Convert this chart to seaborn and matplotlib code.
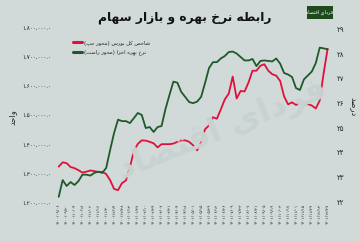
import numpy as np
import pandas as pd
import matplotlib
matplotlib.use("Agg")
import matplotlib.pyplot as plt
import seaborn as sns

# ---------------- data ----------------
tick_dates = [
    "1400/09/06", "1400/09/20", "1400/10/04", "1400/10/18", "1400/11/02",
    "1400/11/16", "1400/11/30", "1400/12/14", "1400/12/28", "1401/01/13",
    "1401/01/27", "1401/02/10", "1401/02/24", "1401/03/07", "1401/03/21",
    "1401/04/04", "1401/04/18", "1401/05/01", "1401/05/15", "1401/05/29",
    "1401/06/12", "1401/06/26", "1401/07/09", "1401/07/23", "1401/08/07",
    "1401/08/21", "1401/09/05", "1401/09/19", "1401/10/03", "1401/10/17",
    "1401/11/01", "1401/11/15", "1401/11/29", "1401/12/13", "1401/12/27",
]

# weekly observations (two per tick label)
stock_index = [
    1324000, 1339000, 1336000, 1323000, 1319000, 1312000, 1304000, 1307000,
    1311000, 1309000, 1306000, 1306000, 1299000, 1278000, 1248000, 1244000,
    1268000, 1277000, 1322000, 1377000, 1402000, 1414000, 1413000, 1409000,
    1404000, 1390000, 1401000, 1401000, 1401000, 1403000, 1409000, 1414000,
    1414000, 1409000, 1397000, 1380000, 1407000, 1452000, 1465000, 1493000,
    1488000, 1520000, 1554000, 1574000, 1632000, 1557000, 1583000, 1581000,
    1612000, 1652000, 1652000, 1669000, 1674000, 1652000, 1640000, 1635000,
    1617000, 1564000, 1537000, 1544000, 1535000, 1540000, 1537000, 1538000,
    1533000, 1523000, 1550000, 1644000, 1727000,
]
interest_rate = [
    22.21, 22.89, 22.65, 22.81, 22.69, 22.85, 23.11, 23.11, 23.07, 23.18,
    23.23, 23.18, 23.38, 24.11, 24.80, 25.34, 25.28, 25.28, 25.20, 25.40,
    25.61, 25.53, 25.00, 25.04, 24.84, 25.04, 25.08, 25.77, 26.34, 26.88,
    26.84, 26.46, 26.26, 26.05, 26.01, 26.07, 26.26, 26.82, 27.43, 27.67,
    27.67, 27.82, 27.92, 28.08, 28.10, 28.02, 27.88, 27.74, 27.74, 27.80,
    27.51, 27.72, 27.74, 27.72, 27.70, 27.82, 27.61, 27.23, 27.17, 27.07,
    26.62, 26.54, 26.97, 27.13, 27.29, 27.63, 28.26, 28.23, 28.19,
]
left_ticks = [1200000, 1300000, 1400000, 1500000, 1600000, 1700000, 1800000]
right_ticks = [22, 23, 24, 25, 26, 27, 28, 29]

title_text = "رابطه نرخ بهره و بازار سهام"
label_stock = "شاخص کل بورس (محور چپ)"
label_rate = "نرخ بهره اخزا (محور راست)"
left_axis_label = "واحد"
right_axis_label = "درصد"
logo_text = "فردای اقتصاد"

# ---------------- Persian shaping helpers ----------------
FORMS = {
    "ا": ("\uFE8D", "\uFE8E", None, None),
    "آ": ("\uFE81", "\uFE82", None, None),
    "ب": ("\uFE8F", "\uFE90", "\uFE91", "\uFE92"),
    "پ": ("\uFB56", "\uFB57", "\uFB58", "\uFB59"),
    "ت": ("\uFE95", "\uFE96", "\uFE97", "\uFE98"),
    "چ": ("\uFB7A", "\uFB7B", "\uFB7C", "\uFB7D"),
    "ح": ("\uFEA1", "\uFEA2", "\uFEA3", "\uFEA4"),
    "خ": ("\uFEA5", "\uFEA6", "\uFEA7", "\uFEA8"),
    "د": ("\uFEA9", "\uFEAA", None, None),
    "ر": ("\uFEAD", "\uFEAE", None, None),
    "ز": ("\uFEAF", "\uFEB0", None, None),
    "س": ("\uFEB1", "\uFEB2", "\uFEB3", "\uFEB4"),
    "ش": ("\uFEB5", "\uFEB6", "\uFEB7", "\uFEB8"),
    "ص": ("\uFEB9", "\uFEBA", "\uFEBB", "\uFEBC"),
    "ط": ("\uFEC1", "\uFEC2", "\uFEC3", "\uFEC4"),
    "ف": ("\uFED1", "\uFED2", "\uFED3", "\uFED4"),
    "ق": ("\uFED5", "\uFED6", "\uFED7", "\uFED8"),
    "ک": ("\uFB8E", "\uFB8F", "\uFB90", "\uFB91"),
    "ل": ("\uFEDD", "\uFEDE", "\uFEDF", "\uFEE0"),
    "م": ("\uFEE1", "\uFEE2", "\uFEE3", "\uFEE4"),
    "ن": ("\uFEE5", "\uFEE6", "\uFEE7", "\uFEE8"),
    "ه": ("\uFEE9", "\uFEEA", "\uFEEB", "\uFEEC"),
    "و": ("\uFEED", "\uFEEE", None, None),
    "ی": ("\uFBFC", "\uFBFD", "\uFBFE", "\uFBFF"),
}


def fa(s):
    out = []
    for i, ch in enumerate(s):
        if ch not in FORMS:
            out.append(ch)
            continue
        prev = s[i - 1] if i > 0 else None
        nxt = s[i + 1] if i + 1 < len(s) else None
        iso, fin, ini, med = FORMS[ch]
        jp = prev in FORMS and FORMS[prev][2] is not None
        jn = nxt in FORMS and ini is not None
        if jp and jn:
            out.append(med)
        elif jp:
            out.append(fin)
        elif jn:
            out.append(ini)
        else:
            out.append(iso)
    vis = "".join(out)[::-1]
    return vis.translate(str.maketrans({"(": ")", ")": "("}))


FA_DIGITS = str.maketrans("0123456789", "۰۱۲۳۴۵۶۷۸۹")


def fd(s):
    return s.translate(FA_DIGITS)


# ---------------- figure ----------------
BG = "#d1dad9"
RED = "#e0103c"
GREEN = "#1d5a2a"

sns.set_theme(style="white")
plt.rcParams["font.family"] = ["DejaVu Sans"]

fig = plt.figure(figsize=(3.6, 2.41), dpi=100, facecolor=BG)
W, H = 360.0, 241.0
ax = fig.add_axes([55 / W, 1 - 203 / H, (333 - 55) / W, (203 - 27.4) / H])
ax.set_facecolor("none")
ax2 = ax.twinx()

n = len(stock_index)
df = pd.DataFrame({"t": np.arange(n) * 0.5, "stock": stock_index, "rate": interest_rate})

sns.lineplot(data=df, x="t", y="stock", ax=ax, color=RED, linewidth=1.3, label=fa(label_stock), legend=False)
sns.lineplot(data=df, x="t", y="rate", ax=ax2, color=GREEN, linewidth=1.3, label=fa(label_rate), legend=False)

ax.set_xlim(-0.47, 34.68)
ax.set_ylim(1200000, 1800000)
ax2.set_ylim(21.96, 29.08)

ax.set_xticks(np.arange(len(tick_dates)))
ax.set_xticklabels([fd(d) for d in tick_dates], rotation=90, fontsize=3.0, color="#222222")
ax.set_yticks(left_ticks)
ax.set_yticklabels([fd(f"{v:,}.0") for v in left_ticks], fontsize=4.0, color="#222222")
ax2.set_yticks(right_ticks)
ax2.set_yticklabels([fd(str(v)) for v in right_ticks], fontsize=5.0, color="#222222")

for a in (ax, ax2):
    for sp in a.spines.values():
        sp.set_visible(False)
    a.tick_params(length=0)
    a.set_xlabel("")
    a.set_ylabel("")
    a.grid(False)
ax.tick_params(axis="y", pad=2.5)
ax.tick_params(axis="x", pad=0.5)
ax2.tick_params(axis="y", pad=3)

# axis labels
fig.text(12 / W, 1 - 117 / H, fa(left_axis_label), rotation=90, ha="center", va="center", fontsize=6, color="#222222")
fig.text(353 / W, 1 - 107 / H, fa(right_axis_label), rotation=270, ha="center", va="center", fontsize=6, color="#222222")

# faint watermark
fig.text(222 / W, 1 - 130 / H, fa(logo_text), rotation=22, ha="center", va="center",
         fontsize=24, color="#c8d2d1", zorder=0, fontweight="bold")

# title
fig.text(185 / W, 1 - 17 / H, fa(title_text), ha="center", va="center", fontsize=8.8,
         fontweight="bold", color="#111111")

# logo box
fig.patches.append(plt.Rectangle((307 / W, 1 - 19 / H), 26 / W, 13 / H, transform=fig.transFigure,
                                 facecolor="#1e4a1c", edgecolor="none"))
fig.text(320 / W, 1 - 12.5 / H, fa(logo_text), ha="center", va="center", fontsize=3.5, color="white")

# legend
h1, l1 = ax.get_legend_handles_labels()
h2, l2 = ax2.get_legend_handles_labels()
leg = ax2.legend(h1 + h2, l1 + l2, loc="upper left", bbox_to_anchor=(73 / W, 1 - 40 / H),
                 bbox_transform=fig.transFigure, frameon=False, fontsize=3.8, handlelength=1.7,
                 handletextpad=0.3, labelspacing=0.75, borderpad=0, borderaxespad=0)
for line in leg.get_lines():
    line.set_linewidth(2.2)
for t in leg.get_texts():
    t.set_color("#222222")

fig.savefig("out.png", dpi=100, facecolor=BG)
